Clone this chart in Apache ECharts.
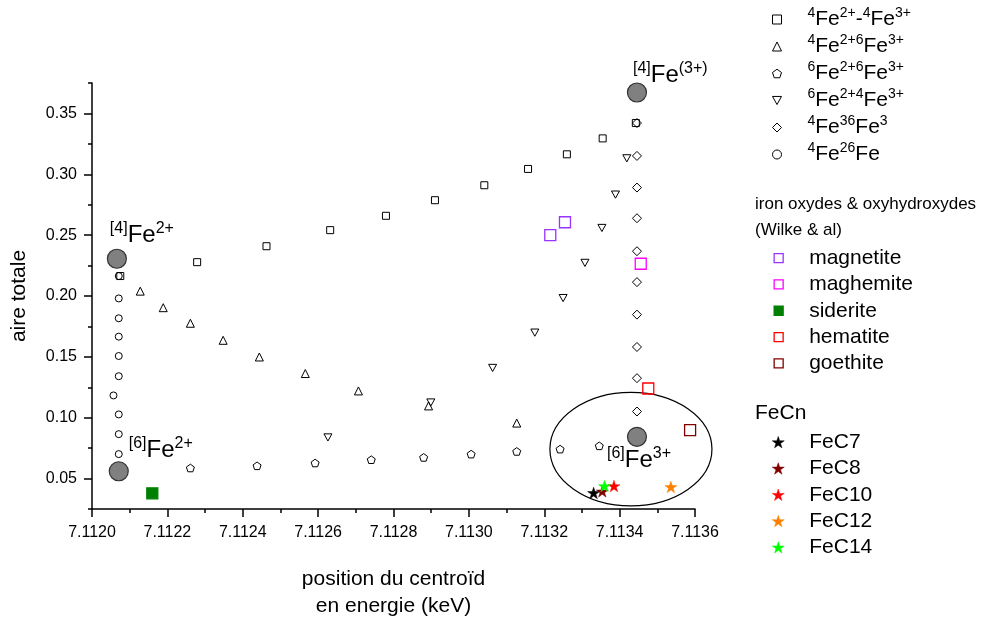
<!DOCTYPE html>
<html><head><meta charset="utf-8">
<script src="https://cdn.jsdelivr.net/npm/echarts@6/dist/echarts.min.js"></script>
<style>html,body{margin:0;padding:0;background:#fff}#c{width:981px;height:621px}</style>
</head><body><div id="c"></div>
<script>
// ---------- data ----------
const seriesNames = ['4Fe2+-4Fe3+', '4Fe2+6Fe3+', '6Fe2+6Fe3+', '6Fe2+4Fe3+', '4Fe36Fe3', '4Fe26Fe'];
const seriesLegendRich = [
  '{s|4}{b|Fe}{s|2+}{b|-}{s|4}{b|Fe}{s|3+}',
  '{s|4}{b|Fe}{s|2+6}{b|Fe}{s|3+}',
  '{s|6}{b|Fe}{s|2+6}{b|Fe}{s|3+}',
  '{s|6}{b|Fe}{s|2+4}{b|Fe}{s|3+}',
  '{s|4}{b|Fe}{s|36}{b|Fe}{s|3}',
  '{s|4}{b|Fe}{s|26}{b|Fe}'
];
const sqX = [7.112075, 7.112279, 7.112463, 7.112632, 7.112780, 7.112910, 7.113041, 7.113157, 7.113260, 7.113355, 7.113443];
const sqY = [0.2164, 0.2278, 0.2409, 0.2541, 0.2659, 0.2787, 0.2910, 0.3044, 0.3164, 0.3295, 0.3421];
const triX = [7.112128, 7.112189, 7.112261, 7.112348, 7.112444, 7.112566, 7.112707, 7.112893, 7.113127];
const triY = [0.2040, 0.1904, 0.1776, 0.1636, 0.1499, 0.1363, 0.1220, 0.1097, 0.0956];
const pentX = [7.112261, 7.112438, 7.112592, 7.112741, 7.112880, 7.113006, 7.113127, 7.113242, 7.113346];
const pentY = [0.0587, 0.0605, 0.0628, 0.0655, 0.0674, 0.0701, 0.0723, 0.0742, 0.0769];
const dtriX = [7.112626, 7.112899, 7.113063, 7.113175, 7.113250, 7.113308, 7.113353, 7.113389, 7.113419];
const dtriY = [0.0838, 0.1125, 0.1409, 0.1699, 0.1983, 0.2272, 0.2559, 0.2833, 0.3131];
const diaX = [7.113446, 7.113446, 7.113446, 7.113446, 7.113446, 7.113446, 7.113446, 7.113446, 7.113446, 7.113446];
const diaY = [0.3421, 0.3151, 0.2891, 0.2639, 0.2368, 0.2114, 0.1847, 0.1581, 0.1325, 0.1051];
const cirX = [7.112071, 7.112071, 7.112071, 7.112071, 7.112071, 7.112071, 7.112057, 7.112071, 7.112071, 7.112071];
const cirY = [0.2164, 0.1980, 0.1817, 0.1666, 0.1507, 0.1341, 0.1183, 0.1027, 0.0865, 0.0701];

const refX = [7.112066, 7.112071, 7.113446, 7.113446];
const refY = [0.2306, 0.0560, 0.3672, 0.0843];
const refLabels = ['{s|[4]}{b|Fe}{s|2+}', '{s|[6]}{b|Fe}{s|2+}', '{s|[4]}{b|Fe}{s|(3+)}', '{s|[6]}{b|Fe}{s|3+}'];

const oxideNames = ['magnetite', 'maghemite', 'siderite', 'hematite', 'goethite'];
const oxideX = [[7.113216, 7.113255], [7.113456], [7.112160], [7.113476], [7.113587]];
const oxideY = [[0.2500, 0.2606], [0.2265], [0.0379], [0.1240], [0.0898]];

const fecNames = ['FeC7', 'FeC8', 'FeC10', 'FeC12', 'FeC14'];
const fecX = [7.113331, 7.113354, 7.113385, 7.113536, 7.113360];
const fecY = [0.0382, 0.0395, 0.0439, 0.0431, 0.0439];

const ellipseData = [[7.113430, 0.0742, 0.000215, 0.0467]];

const xTitle = 'position du centroïd\nen energie (keV)';
const yTitle = 'aire totale';
const yTickLabels = [0.05, 0.10, 0.15, 0.20, 0.25, 0.30, 0.35];
const groupTitles = ['iron oxydes & oxyhydroxydes', '(Wilke & al)', 'FeCn'];

// ---------- styles ----------
const FONT = 'Liberation Sans, Arial, Helvetica, sans-serif';
const PENT = 'path://M0,-1L0.951,-0.309L0.588,0.809L-0.588,0.809L-0.951,-0.309Z';
const DTRI = 'path://M-1,-0.9L1,-0.9L0,0.9Z';
const STAR = 'path://M0,-1L0.2245,-0.309L0.951,-0.309L0.363,0.118L0.588,0.809L0,0.382L-0.588,0.809L-0.363,0.118L-0.951,-0.309L-0.2245,-0.309Z';
const symbols = ['rect', 'triangle', PENT, DTRI, 'diamond', 'circle'];
const symSizes = [7, 8, 8, 8, 9, 7];
const oxideColors = ['#9933FF', '#FF00FF', '#008000', '#FF0000', '#800000'];
const oxideFilled = [false, false, true, false, false];
const fecColors = ['#000000', '#800000', '#FF0000', '#FF8000', '#00FF00'];

const zip = (xs, ys) => xs.map((x, i) => [x, ys[i]]);
const mainX = [sqX, triX, pentX, dtriX, diaX, cirX];
const mainY = [sqY, triY, pentY, dtriY, diaY, cirY];

const series = [];
series.push({
  type: 'custom', name: 'ellipse', silent: true, clip: false, z: 1,
  data: ellipseData, encode: { x: 0, y: 1 },
  renderItem: (params, api) => {
    const c = api.coord([api.value(0), api.value(1)]);
    const s = api.size([api.value(2), api.value(3)]);
    return { type: 'ellipse', shape: { cx: c[0], cy: c[1], rx: s[0], ry: s[1] },
      style: { fill: 'none', stroke: '#000', lineWidth: 1.2 } };
  }
});
seriesNames.forEach((n, i) => {
  series.push({
    type: 'scatter', name: n, data: zip(mainX[i], mainY[i]),
    symbol: symbols[i], symbolSize: symSizes[i], symbolKeepAspect: true,
    itemStyle: { color: 'rgba(255,255,255,0)', borderColor: '#000', borderWidth: 1, opacity: 1 }
  });
});
oxideNames.forEach((n, i) => {
  series.push({
    type: 'scatter', name: n, data: zip(oxideX[i], oxideY[i]),
    symbol: 'rect', symbolSize: 11,
    itemStyle: { color: oxideFilled[i] ? oxideColors[i] : 'rgba(255,255,255,0)', borderColor: oxideColors[i], borderWidth: 1.3, opacity: 1 }
  });
});
fecNames.forEach((n, i) => {
  series.push({
    type: 'scatter', name: n, data: [[fecX[i], fecY[i]]],
    symbol: STAR, symbolSize: 12, symbolKeepAspect: true,
    itemStyle: { color: fecColors[i], borderColor: fecColors[i], borderWidth: 0.5, opacity: 1 }
  });
});
const refOffsets = [[-7, -8], [10, -6], [-4, -2], [-30, 39]];
series.push({
  type: 'scatter', name: 'ref', z: 5,
  data: refX.map((x, i) => ({
    value: [x, refY[i]],
    label: { show: true, formatter: refLabels[i], position: 'inside', align: 'left', verticalAlign: 'bottom', offset: refOffsets[i] }
  })),
  symbol: 'circle', symbolSize: 19,
  itemStyle: { color: '#808080', borderColor: '#333', borderWidth: 1.2, opacity: 1 },
  label: {
    color: '#000', fontFamily: FONT,
    rich: {
      b: { fontSize: 24, lineHeight: 30, fontFamily: FONT, color: '#000' },
      s: { fontSize: 16, lineHeight: 19, verticalAlign: 'top', fontFamily: FONT, color: '#000' }
    }
  }
});

const legendRichMap = {};
seriesNames.forEach((n, i) => legendRichMap[n] = seriesLegendRich[i]);
const legendRich = {
  b: { fontSize: 21, lineHeight: 27, fontFamily: FONT, color: '#000' },
  s: { fontSize: 14, lineHeight: 14, verticalAlign: 'top', fontFamily: FONT, color: '#000' }
};
const plainLegendText = { fontSize: 21, fontFamily: FONT, color: '#000', lineHeight: 26.3, padding: [0, 0, 0, 21] };

const chart = echarts.init(document.getElementById('c'), null, { renderer: 'canvas' });
chart.setOption({
  animation: false,
  backgroundColor: '#fff',
  textStyle: { fontFamily: FONT },
  grid: { left: 92, right: 286, top: 83, bottom: 112, containLabel: false, outerBoundsMode: 'none' },
  xAxis: {
    type: 'value', min: 7.1120, max: 7.1136, interval: 0.0002,
    name: xTitle, nameLocation: 'middle', nameGap: 57,
    nameTextStyle: { fontSize: 21, lineHeight: 27, color: '#000', fontFamily: FONT },
    axisLine: { show: true, onZero: false, lineStyle: { color: '#000', width: 1.5 } },
    axisTick: { show: true, length: 8, lineStyle: { color: '#000', width: 1.5 } },
    minorTick: { show: true, splitNumber: 2, length: 4, lineStyle: { color: '#000', width: 1.5 } },
    splitLine: { show: false },
    axisLabel: { fontSize: 16, color: '#000', margin: 16, fontFamily: FONT, formatter: v => v.toFixed(4) }
  },
  yAxis: [{
    type: 'value', min: 0.025, max: 0.375, position: 'left',
    name: yTitle, nameLocation: 'middle', nameGap: 62, nameRotate: 90,
    nameTextStyle: { fontSize: 21, color: '#000', fontFamily: FONT },
    axisLine: { show: true, onZero: false, lineStyle: { color: '#000', width: 1.5 } },
    axisTick: { show: true, length: 8, customValues: yTickLabels, lineStyle: { color: '#000', width: 1.5 } },
    splitLine: { show: false },
    axisLabel: { fontSize: 16, color: '#000', margin: 15, fontFamily: FONT, customValues: yTickLabels, formatter: v => v.toFixed(2) }
  }, {
    type: 'value', min: 0.025, max: 0.375, interval: 0.025, position: 'left', offset: 0,
    axisLine: { show: false },
    axisTick: { show: true, length: 4, lineStyle: { color: '#000', width: 1.5 } },
    axisLabel: { show: false }, splitLine: { show: false }
  }],
  legend: [{
    data: seriesNames, orient: 'vertical', left: 772, top: 6, padding: 0, itemGap: 3,
    itemWidth: 9, itemHeight: 9, selectedMode: false,
    itemStyle: { borderWidth: 1 },
    formatter: n => legendRichMap[n],
    textStyle: { color: '#000', fontFamily: FONT, padding: [0, 0, 0, 21], rich: legendRich }
  }, {
    data: oxideNames, orient: 'vertical', left: 773.5, top: 245, padding: 0, itemGap: 0,
    itemWidth: 9, itemHeight: 9, selectedMode: false,
    itemStyle: { borderWidth: 1.3 },
    textStyle: plainLegendText
  }, {
    data: fecNames, orient: 'vertical', left: 772, top: 429, padding: 0, itemGap: 0,
    itemWidth: 12, itemHeight: 12, selectedMode: false,
    itemStyle: { borderWidth: 0.5 },
    textStyle: { fontSize: 21, fontFamily: FONT, color: '#000', lineHeight: 26.3, padding: [0, 0, 0, 20] }
  }],
  graphic: [
    { type: 'text', left: 755, top: 196, style: { text: groupTitles[0], font: '17px ' + FONT, fill: '#000' } },
    { type: 'text', left: 755, top: 222, style: { text: groupTitles[1], font: '17px ' + FONT, fill: '#000' } },
    { type: 'text', left: 755, top: 403, style: { text: groupTitles[2], font: '21px ' + FONT, fill: '#000' } }
  ],
  series: series
});
</script>
</body></html>
